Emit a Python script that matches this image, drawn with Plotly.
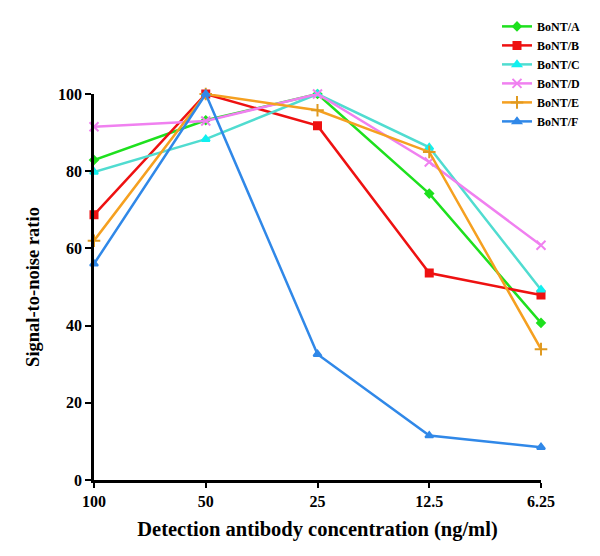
import plotly.graph_objects as go

categories = ["100", "50", "25", "12.5", "6.25"]
series_names = ["BoNT/A", "BoNT/B", "BoNT/C", "BoNT/D", "BoNT/E", "BoNT/F"]
bont_a = [82.9, 93.2, 100, 74.2, 40.7]
bont_b = [68.7, 100, 91.8, 53.6, 47.9]
bont_c = [79.8, 88.3, 100, 86.2, 49.3]
bont_d = [91.5, 93.0, 100, 82.4, 60.8]
bont_e = [62.0, 100, 95.8, 85.0, 33.9]
bont_f = [56.0, 100, 32.6, 11.5, 8.5]
y_ticks = [0, 20, 40, 60, 80, 100]

values = [bont_a, bont_b, bont_c, bont_d, bont_e, bont_f]
line_colors = ["#1ee01e", "#ee1111", "#50dcd0", "#f080f0", "#f5a020", "#3088e8"]
marker_colors = ["#1ee01e", "#ee1111", "#10f0f0", "#f080f0", "#e09a20", "#3088e8"]
symbols = ["diamond", "square", "triangle-up", "x-thin", "cross-thin", "triangle-up"]
sizes = [6, 7, 7, 9, 9, 7]

xs = list(range(len(categories)))
fig = go.Figure()
for name, v, lc, mc, s, sz in zip(series_names, values, line_colors, marker_colors, symbols, sizes):
    fig.add_trace(go.Scatter(
        x=xs, y=v, name=name, mode="lines+markers",
        line=dict(color=lc, width=2.5),
        marker=dict(symbol=s, size=sz, color=mc, line=dict(color=mc, width=2)),
        cliponaxis=False,
    ))

font_family = "Liberation Serif"
fig.update_layout(
    width=600, height=556,
    margin=dict(l=86, r=67, t=86, b=84, autoexpand=False),
    plot_bgcolor="white", paper_bgcolor="white",
    font=dict(family=font_family, color="black"),
    showlegend=True,
    legend=dict(
        xref="container", yref="container", x=0.815, y=0.993,
        xanchor="left", yanchor="top",
        font=dict(family=font_family, size=12, color="black", weight="bold"),
        tracegroupgap=0, itemwidth=30, bgcolor="rgba(0,0,0,0)",
    ),
    xaxis=dict(
        tickmode="array", tickvals=xs, ticktext=categories,
        range=[0, 4], showgrid=False, zeroline=False,
        showline=True, linecolor="black", linewidth=2.5,
        ticks="outside", ticklen=5, tickwidth=2, tickcolor="black",
        tickfont=dict(family=font_family, size=16, color="black", weight="bold"),
        title=dict(text="Detection antibody concentration (ng/ml)",
                   font=dict(family=font_family, size=20.5, color="black", weight="bold"),
                   standoff=13),
    ),
    yaxis=dict(
        tickmode="array", tickvals=y_ticks,
        range=[0, 100], showgrid=False, zeroline=False,
        showline=True, linecolor="black", linewidth=2.5,
        ticks="outside", ticklen=6, tickwidth=2, tickcolor="black",
        tickfont=dict(family=font_family, size=16, color="black", weight="bold"),
        title=dict(text="Signal-to-noise ratio",
                   font=dict(family=font_family, size=18.5, color="black", weight="bold"),
                   standoff=14),
    ),
)

fig.write_html("out.html")
